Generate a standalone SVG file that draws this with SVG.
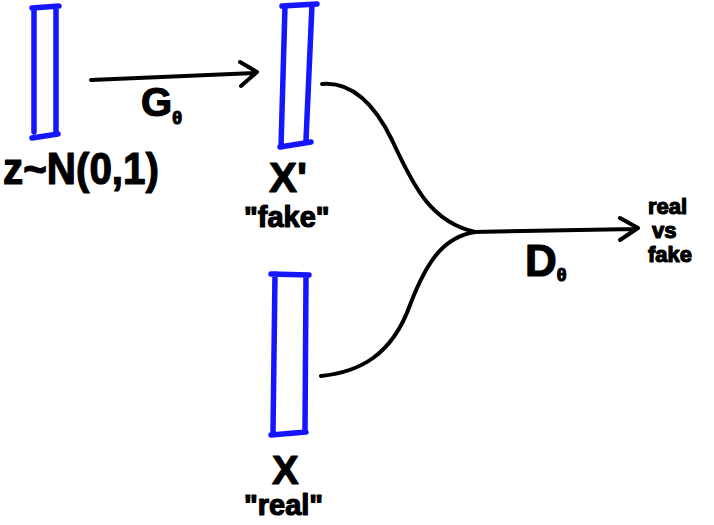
<svg xmlns="http://www.w3.org/2000/svg" width="714" height="525" viewBox="0 0 714 525">
<style>
.bar{fill:none;stroke:#1515ff;stroke-width:5.5;stroke-linecap:round;stroke-linejoin:round}
.ink{fill:none;stroke:#000;stroke-width:4;stroke-linecap:round;stroke-linejoin:round}
.t{font-family:"Liberation Sans","DejaVu Sans",sans-serif;font-weight:bold;fill:#000;stroke:#000;stroke-width:1.2;stroke-linejoin:round}
</style>
<rect width="714" height="525" fill="#fff"/>
<g id="z-vector">
<path class="bar" d="M32,8 L59,6 M34,8 L34,132 M56,7 L56,133 M32,138 L58,134"/>
<text class="t" x="3" y="184" font-size="44" textLength="156" lengthAdjust="spacingAndGlyphs">z~N(0,1)</text>
</g>
<g id="x-fake">
<path class="bar" d="M282,6 L317,4 M285,6 L281,147 M312,5 L306,140 M280,147 L311,142"/>
<text class="t" x="269" y="192" font-size="42">X'</text>
<text class="t" x="244" y="227" font-size="29">"fake"</text>
</g>
<g id="x-real">
<path class="bar" d="M271,274 L309,275 M275,274 L273,433 M306,276 L305,432 M271,435 L306,432"/>
<text class="t" x="272" y="484" font-size="40">X</text>
<text class="t" x="244" y="515" font-size="29">"real"</text>
</g>
<g id="output">
<text class="t" font-size="22"><tspan x="648" y="214">real</tspan><tspan x="652" y="238">vs</tspan><tspan x="648" y="262">fake</tspan></text>
</g>
<g id="connectors">
<path class="ink" d="M91,80 L255,73 M240,62 L257,72 L241,86"/>
<text class="t" x="141" y="116" font-size="40">G<tspan font-size="18" dy="8">θ</tspan></text>
<path class="ink" d="M322,84 C345,82 370,95 392,140 C415,190 432,222 475,232"/>
<path class="ink" d="M321,376 C360,372 392,355 410,305 C428,258 445,237 475,232"/>
<path class="ink" d="M473,232 L636,229 M620,218 L638,228 L620,240"/>
<text class="t" x="525" y="276" font-size="44">D<tspan font-size="18" dy="5">θ</tspan></text>
</g>
</svg>
